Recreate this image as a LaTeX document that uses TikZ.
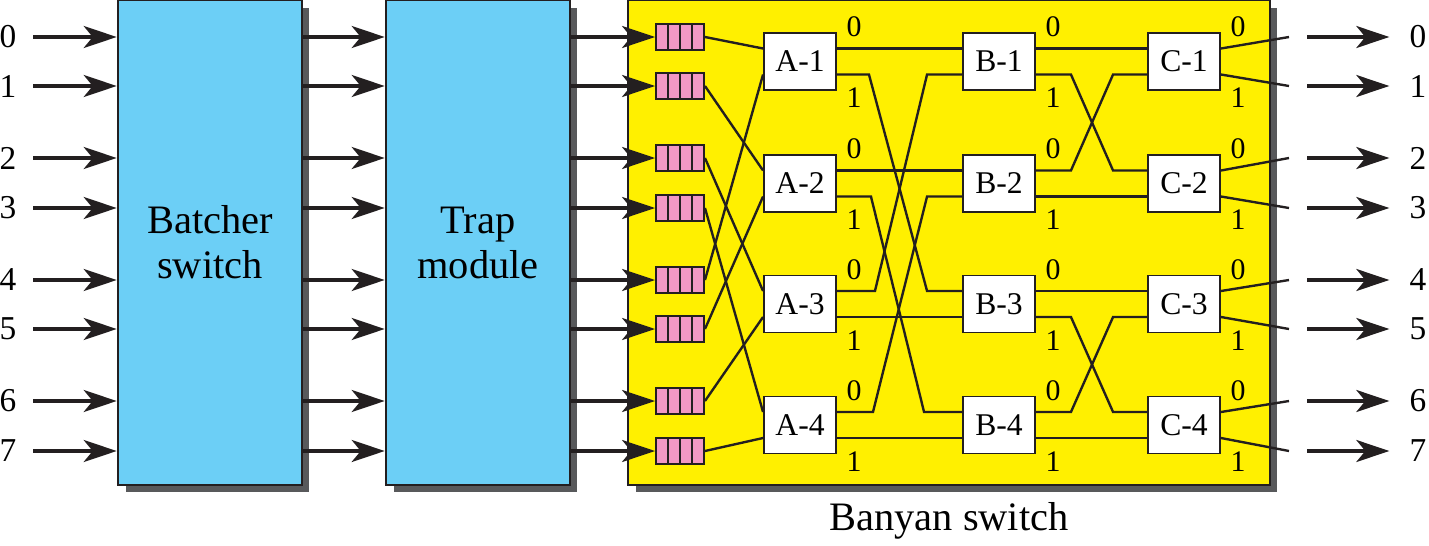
\documentclass[tikz,border=0pt]{standalone}
\usepackage{fontspec}
\setmainfont{Liberation Serif}
\usetikzlibrary{arrows.meta,shadows}
\definecolor{ink}{RGB}{35,31,32}
\definecolor{boxblue}{RGB}{108,207,246}
\definecolor{banyan}{RGB}{255,240,0}
\definecolor{qpink}{RGB}{242,152,196}
\definecolor{shade}{RGB}{88,89,91}
\begin{document}
\begin{tikzpicture}[x=0.02cm,y=-0.02cm,line join=miter,
  big/.style={draw=ink,line width=1.5pt,inner sep=0,align=center,
    font=\fontsize{23}{25.6}\selectfont,
    drop shadow={shadow xshift=0.15cm,shadow yshift=-0.15cm,fill=shade,opacity=1}},
  sw/.style={draw=ink,fill=white,line width=1.1pt,minimum width=1.44cm,
    minimum height=1.14cm,inner sep=0,font=\fontsize{18}{18}\selectfont},
  queue/.style={draw=ink,fill=qpink,line width=1.1pt,minimum width=0.96cm,
    minimum height=0.52cm,inner sep=0,
    path picture={\foreach \k in {1,2,3}
      \draw[ink,line width=1.1pt] ([xshift=\k*0.24cm]path picture bounding box.south west)
        -- ([xshift=\k*0.24cm]path picture bounding box.north west);}},
  wire/.style={ink,line width=1.35pt},
  arr/.style={ink,line width=2pt,-{Stealth[length=0.66cm,width=0.44cm,inset=0.18cm]}},
  num/.style={inner sep=0,font=\fontsize{19}{19}\selectfont},
  plab/.style={inner sep=0,font=\fontsize{17}{17}\selectfont}]
  \useasboundingbox (0,0) rectangle (1429,545);

  \node[big,fill=boxblue,minimum width=3.68cm,minimum height=9.7cm] (bat) at (210,242.5) {Batcher\\switch};
  \node[big,fill=boxblue,minimum width=3.68cm,minimum height=9.7cm] (trap) at (478,242.5) {Trap\\module};
  \node[big,fill=banyan,minimum width=12.84cm,minimum height=9.7cm] (ban) at (949,242.5) {};
  \node[anchor=base,inner sep=0,font=\fontsize{23}{25.6}\selectfont] (banlab) at (949,530) {Banyan switch};

  \foreach \i/\y in {0/37,1/86,2/158,3/208,4/280,5/329,6/401,7/451} {
    \node[num] (in\i) at (8,\y) {\i};
    \node[queue] (q\i) at (680,\y) {};
    \node[num] (out\i) at (1418,\y) {\i};
    \coordinate (e\i) at (1289,\y);
    \coordinate (s\i) at (1307,\y);
    \draw[arr,shorten <=0.33cm] (in\i.east) -- (in\i -| bat.west);
    \draw[arr] (in\i -| bat.east) -- (in\i -| trap.west);
    \draw[arr] (in\i -| trap.east) -- (q\i.west);
    \draw[arr,shorten >=0.4cm] (s\i) -- (out\i.west);
  }

  \foreach \s/\x in {A/800,B/999,C/1184}
    \foreach \n/\y in {1/61.5,2/183.5,3/304,4/425} {
      \node[sw] (\s\n) at (\x,\y) {\s-\n};
      \coordinate (\s\n-i0) at ([yshift=0.26cm]\s\n.west);
      \coordinate (\s\n-i1) at ([yshift=-0.26cm]\s\n.west);
      \coordinate (\s\n-o0) at ([yshift=0.26cm]\s\n.east);
      \coordinate (\s\n-o1) at ([yshift=-0.26cm]\s\n.east);
      \node[plab] (\s\n-l0) at ([shift={(0.34cm,0.1cm)}]\s\n.north east) {0};
      \node[plab] (\s\n-l1) at ([shift={(0.34cm,-0.14cm)}]\s\n.south east) {1};
    }

  \foreach \a/\b in {0/A1-i0,1/A2-i0,2/A3-i0,3/A4-i0,4/A1-i1,5/A2-i1,6/A3-i1,7/A4-i1}
    \draw[wire] (q\a.east) -- (\b);

  \draw[wire] (A1-o0) -- (B1-i0);
  \draw[wire] (A1-o1) -- ++(32,0) -- ([xshift=-0.7cm]B3-i0) -- (B3-i0);
  \draw[wire] (A2-o0) -- (B2-i0);
  \draw[wire] (A2-o1) -- ++(34,0) -- ([xshift=-0.76cm]B4-i0) -- (B4-i0);
  \draw[wire] (A3-o0) -- ++(38,0) -- ([xshift=-0.7cm]B1-i1) -- (B1-i1);
  \draw[wire] (A3-o1) -- (B3-i1);
  \draw[wire] (A4-o0) -- ++(36,0) -- ([xshift=-0.7cm]B2-i1) -- (B2-i1);
  \draw[wire] (A4-o1) -- (B4-i1);

  \foreach \u/\v in {1/2,3/4} {
    \draw[wire] (B\u-o0) -- (C\u-i0);
    \draw[wire] (B\u-o1) -- ++(35,0) -- ([xshift=-0.68cm]C\v-i0) -- (C\v-i0);
    \draw[wire] (B\v-o0) -- ++(35,0) -- ([xshift=-0.68cm]C\u-i1) -- (C\u-i1);
    \draw[wire] (B\v-o1) -- (C\v-i1);
  }

  \foreach \c/\j/\k in {1/0/1,2/2/3,3/4/5,4/6/7} {
    \draw[wire] (C\c-o0) -- (e\j);
    \draw[wire] (C\c-o1) -- (e\k);
  }
\end{tikzpicture}
\end{document}
